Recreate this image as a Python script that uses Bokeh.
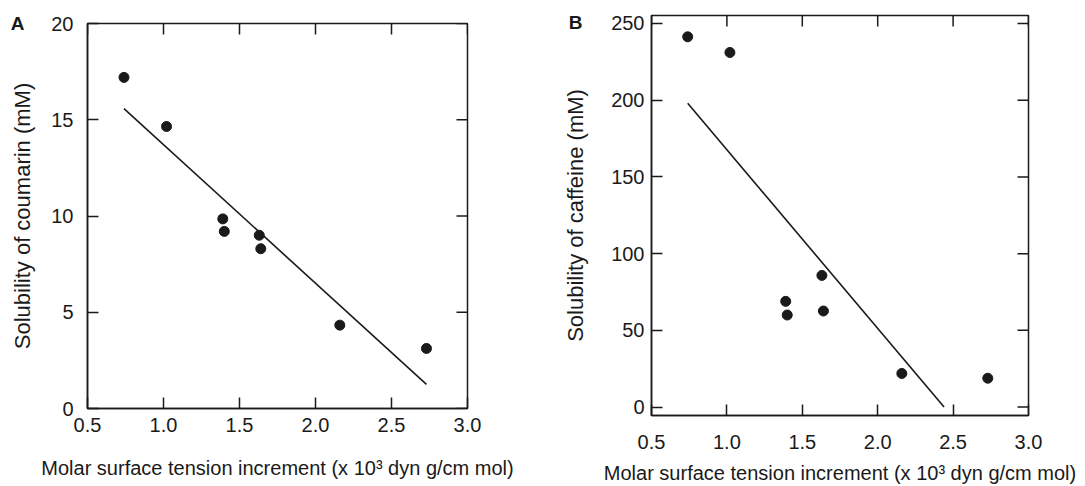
from bokeh.plotting import figure
from bokeh.layouts import row, column
from bokeh.models import LinearAxis, FixedTicker, Range1d
from bokeh.embed import file_html
from bokeh.resources import INLINE

# ---- data ----
mst_increment = [0.74, 1.02, 1.39, 1.40, 1.63, 1.64, 2.16, 2.73]
coumarin_solubility = [17.2, 14.65, 9.85, 9.2, 9.0, 8.3, 4.33, 3.12]
caffeine_solubility = [241.3, 231.1, 68.9, 60.0, 85.8, 62.6, 21.9, 18.8]

coumarin_fit_x = [0.74, 2.73]
coumarin_fit_y = [15.58, 1.25]
caffeine_fit_x = [0.74, 2.44]
caffeine_fit_y = [198.0, 0.0]

x_ticks = [0.5, 1.0, 1.5, 2.0, 2.5, 3.0]
x_tick_labels = ["0.5", "1.0", "1.5", "2.0", "2.5", "3.0"]
coumarin_y_ticks = [0, 5, 10, 15, 20]
coumarin_y_tick_labels = ["0", "5", "10", "15", "20"]
caffeine_y_ticks = [0, 50, 100, 150, 200, 250]
caffeine_y_tick_labels = ["0", "50", "100", "150", "200", "250"]

x_label = "Molar surface tension increment (x 10\u00b3 dyn g/cm mol)"
coumarin_y_label = "Solubility of coumarin (mM)"
caffeine_y_label = "Solubility of caffeine (mM)"

FONT = "Liberation Sans"
INK = "#1a1a1a"
TICK = 11


def style_axis(ax, ticks, labels, standoff):
    ax.ticker = FixedTicker(ticks=ticks)
    ax.major_label_overrides = {t: l for t, l in zip(ticks, labels)}
    ax.major_tick_in = TICK
    ax.major_tick_out = 0
    ax.minor_tick_line_color = None
    ax.major_tick_line_color = INK
    ax.major_tick_line_width = 1.5
    ax.axis_line_color = INK
    ax.axis_line_width = 1.5
    ax.major_label_text_font = FONT
    ax.major_label_text_color = INK
    ax.major_label_text_font_size = "20px"
    ax.major_label_standoff = standoff


def make_panel(letter, y_vals, fit_x, fit_y, y_ticks, y_tick_labels, y_label,
               y_range, width, height, borders, x_tick_standoff, x_label_standoff,
               y_tick_standoff, y_label_standoff, letter_standoff, letter_drop):
    bl, br, bt, bb = borders
    p = figure(width=width, height=height,
               x_range=Range1d(0.5, 3.0), y_range=Range1d(*y_range),
               min_border_left=bl, min_border_right=br,
               min_border_top=bt, min_border_bottom=bb,
               output_backend="svg", toolbar_location=None)
    p.xgrid.visible = False
    p.ygrid.visible = False
    p.outline_line_color = INK
    p.outline_line_width = 1.5
    p.background_fill_color = "white"
    p.border_fill_color = "white"

    style_axis(p.xaxis[0], x_ticks, x_tick_labels, x_tick_standoff)
    style_axis(p.yaxis[0], y_ticks, y_tick_labels, y_tick_standoff)
    p.xaxis.axis_label = x_label
    p.yaxis.axis_label = y_label
    for ax, st, fs in ((p.xaxis[0], x_label_standoff, "20px"),
                       (p.yaxis[0], y_label_standoff, "22px")):
        ax.axis_label_text_font = FONT
        ax.axis_label_text_font_style = "normal"
        ax.axis_label_text_font_size = fs
        ax.axis_label_text_color = INK
        ax.axis_label_standoff = st

    # panel letter as the label of a bare outer axis
    la = LinearAxis(ticker=FixedTicker(ticks=[]),
                    axis_label=("\n" + letter) if letter_drop else letter,
                    axis_line_color=None, major_tick_line_color=None,
                    minor_tick_line_color=None,
                    axis_label_orientation="horizontal",
                    axis_label_standoff=letter_standoff,
                    axis_label_text_font=FONT,
                    axis_label_text_font_style="bold",
                    axis_label_text_font_size="19px",
                    axis_label_text_color=INK)
    if letter_drop:
        la.axis_label_text_line_height = letter_drop
    if "axis_label_align" in LinearAxis.properties():
        la.axis_label_align = "end"
    p.add_layout(la, "left")

    # mirrored inward ticks on the top and right frame edges
    y_top = y_range[1]
    p.ray(x=x_ticks, y=[y_top] * len(x_ticks), length=TICK, length_units="screen",
          angle=-90, angle_units="deg", line_color=INK, line_width=1.5)
    p.ray(x=[3.0] * len(y_ticks), y=y_ticks, length=TICK, length_units="screen",
          angle=180, angle_units="deg", line_color=INK, line_width=1.5)

    p.line(fit_x, fit_y, line_color=INK, line_width=1.6)
    p.scatter(mst_increment, y_vals, size=10, fill_color=INK, line_color=INK)
    return p


pA = make_panel("A", coumarin_solubility, coumarin_fit_x, coumarin_fit_y,
                coumarin_y_ticks, coumarin_y_tick_labels, coumarin_y_label,
                (0, 20), 560, 486, (87, 93, 23, 78),
                x_tick_standoff=9, x_label_standoff=22,
                y_tick_standoff=14, y_label_standoff=13, letter_standoff=-17,
                letter_drop=None)
pB = make_panel("B", caffeine_solubility, caffeine_fit_x, caffeine_fit_y,
                caffeine_y_ticks, caffeine_y_tick_labels, caffeine_y_label,
                (-5.5, 255.2), 523, 486, (89, 55, 15, 70),
                x_tick_standoff=19, x_label_standoff=10,
                y_tick_standoff=7, y_label_standoff=20, letter_standoff=-22,
                letter_drop=0.7)

layout = row(column(pA), column(pB))
open("out.html", "w").write(file_html(layout, INLINE))
